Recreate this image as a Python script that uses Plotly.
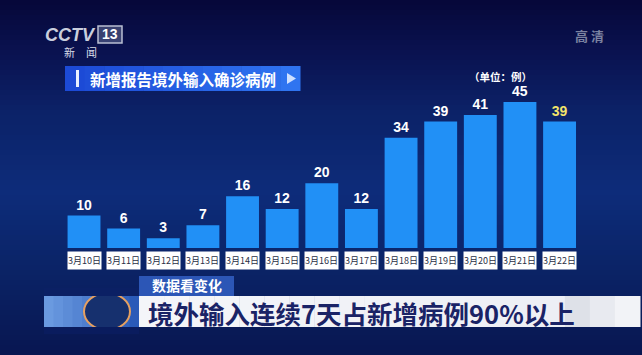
import plotly.graph_objects as go

# ---- data ----
dates = ["3月10日", "3月11日", "3月12日", "3月13日", "3月14日", "3月15日", "3月16日",
         "3月17日", "3月18日", "3月19日", "3月20日", "3月21日", "3月22日"]
cases = [10, 6, 3, 7, 16, 12, 20, 12, 34, 39, 41, 45, 39]
label_colors = ["#ffffff"] * 12 + ["#f2e46a"]

chart_title = "新增报告境外输入确诊病例"
unit_text = "（单位：例）"
tag_text = "数据看变化"
headline = "境外输入连续7天占新增病例90%以上"

W, H = 642, 355
CJK = "Noto Sans CJK SC, Noto Sans, sans-serif"


def px(x):
    return x / W


def py(y):
    return 1 - y / H


def lerp_color(c1, c2, t):
    a = [int(c1[i:i + 2], 16) for i in (1, 3, 5)]
    b = [int(c2[i:i + 2], 16) for i in (1, 3, 5)]
    return "#%02x%02x%02x" % tuple(round(a[k] + (b[k] - a[k]) * t) for k in range(3))


def rect(x0, x1, y0, y1, color, layer="above", line=None):
    d = dict(type="rect", xref="paper", yref="paper", x0=px(x0), x1=px(x1),
             y0=py(y1), y1=py(y0), fillcolor=color, layer=layer)
    if line:
        d["line"] = line
    else:
        d["line_width"] = 0
    return d


shapes = []
# background vertical gradient (stripes)
stops = [(0, "#06083a"), (50, "#0a1250"), (110, "#0c2268"), (190, "#0d2c7a"),
         (260, "#0b2468"), (355, "#081650")]
step = 5
for y in range(0, H, step):
    for i in range(len(stops) - 1):
        if stops[i][0] <= y <= stops[i + 1][0]:
            t = (y - stops[i][0]) / (stops[i + 1][0] - stops[i][0])
            col = lerp_color(stops[i][1], stops[i + 1][1], t)
            break
    shapes.append(rect(0, W, y, y + step + 0.5, col, layer="below"))

# title banner
n = 12
for i in range(n):
    x0 = 65 + i * (235 / n)
    shapes.append(rect(x0, x0 + 235 / n + 0.5, 66, 91,
                       lerp_color("#1c4ad6", "#2f74f0", i / (n - 1)), layer="below"))
shapes.append(rect(76, 79, 70, 87, "#e8f0ff"))
shapes.append(dict(type="path", xref="paper", yref="paper",
                   path=f"M {px(287)},{py(73)} L {px(296)},{py(78.5)} L {px(287)},{py(84)} Z",
                   fillcolor="#cfe0ff", line_width=0))

# logo box for 13
shapes.append(dict(type="rect", xref="paper", yref="paper", x0=px(98), x1=px(122),
                   y0=py(43), y1=py(26), fillcolor="rgba(150,160,190,0.35)",
                   line=dict(color="#b9bfd2", width=1.5)))

# left decoration
for i in range(10):
    x0 = 44 + i * 9.5
    shapes.append(rect(x0, x0 + 10, 296, 327, lerp_color("#6a9ae0", "#2a5ab8", i / 9)))
shapes.append(dict(type="circle", xref="paper", yref="paper", x0=px(84), x1=px(130),
                   y0=py(330), y1=py(293), fillcolor="#16306e",
                   line=dict(color="#e6a060", width=2)))
shapes.append(rect(44, 139, 327, 334, "#0a1c5e"))
shapes.append(rect(44, 139, 288, 296, "#0b2064"))
# white headline banner
n = 20
for i in range(n):
    x0 = 139 + i * (501 / n)
    t = i / (n - 1)
    col = lerp_color("#f4f5f9", "#eceef4", t) if t < 0.85 else lerp_color("#d6d9e2", "#f2f3f7", (t - 0.85) / 0.15)
    shapes.append(rect(x0, x0 + 501 / n + 0.5, 296, 327, col))
# tag box
shapes.append(rect(139, 234, 276, 296, "#2c56b6"))

annotations = []
# date label boxes
for d in dates:
    annotations.append(dict(x=d, xref="x", y=py(260.5), yref="paper", text=d,
                            showarrow=False, bgcolor="#ffffff", width=33, height=17,
                            font=dict(family=CJK, size=9, color="#2a2f45"),
                            xanchor="center", yanchor="middle", borderpad=0))


def label(x, y, text, size, color, family=CJK, xanchor="center"):
    return dict(x=px(x), y=py(y), xref="paper", yref="paper", text=text,
                showarrow=False, xanchor=xanchor, yanchor="middle",
                font=dict(family=family, size=size, color=color))


annotations += [
    label(88, 78.5, f"<b>{chart_title}</b>", 15.5, "#ffffff", xanchor="left"),
    label(500, 77, f"<b>{unit_text}</b>", 10.5, "#ffffff"),
    label(70, 35, "<b><i>CCTV</i></b>", 18, "#c9cedd", family="Liberation Sans, sans-serif"),
    label(110, 34.5, "<b>13</b>", 14, "#ffffff", family="Liberation Sans, sans-serif"),
    label(81, 52, "新　闻", 11, "#d8dce8"),
    label(589, 36, "<b>高 清</b>", 13, "#7b82a0"),
    label(186.5, 284.5, f"<b>{tag_text}</b>", 14, "#ffffff"),
    label(146, 312, f"<b>{headline}</b>", 25.5, "#1a2366", xanchor="left"),
]

fig = go.Figure(go.Bar(
    x=dates, y=cases, width=0.83,
    marker=dict(color="#2190f6", line_width=0),
    text=[str(v) for v in cases], textposition="outside",
    textfont=dict(family="Liberation Sans, Arial, sans-serif", size=14, color=label_colors, weight="bold"),
    cliponaxis=False,
))

fig.update_layout(
    width=W, height=H, margin=dict(l=0, r=0, t=0, b=0),
    paper_bgcolor="#0a1a5a", plot_bgcolor="rgba(0,0,0,0)",
    xaxis=dict(visible=False, range=[-2.12, 14.08], type="category"),
    yaxis=dict(visible=False, range=[-33.0, 76.5]),
    shapes=shapes, annotations=annotations, showlegend=False,
)

fig.write_html("out.html", config={"displayModeBar": False},
               post_script="document.body.style.margin='0';document.body.style.overflow='hidden';")
